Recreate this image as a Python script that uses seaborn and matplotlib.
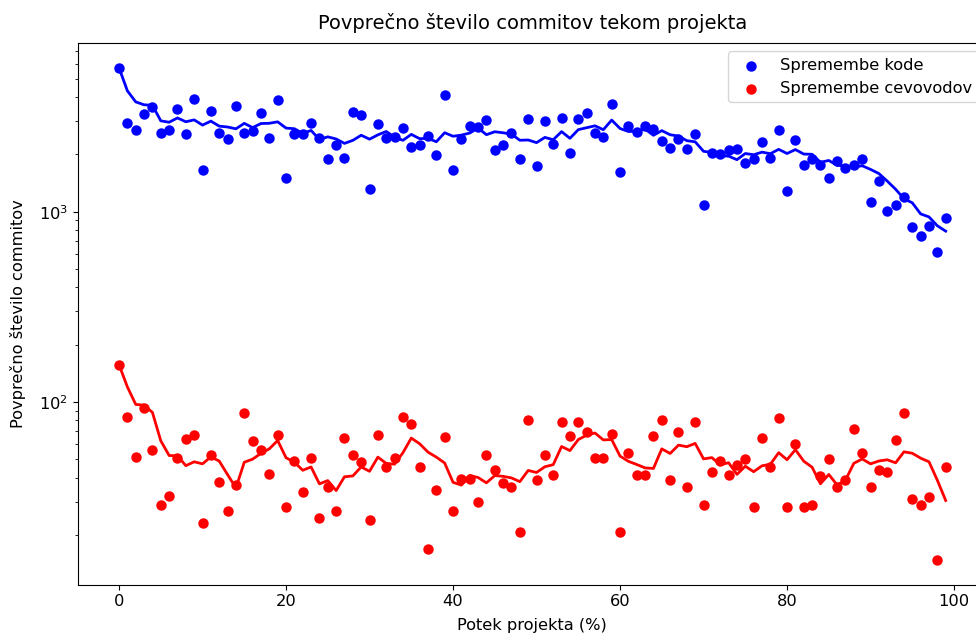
import matplotlib
matplotlib.use("Agg")
import matplotlib.pyplot as plt
import seaborn as sns
import numpy as np
import pandas as pd

# Potek projekta v odstotkih (0-99)
potek = np.arange(100)

# Povprečno število commitov - spremembe kode
koda = [
    5700, 2930, 2690, 3250, 3550, 2580, 2680, 3475, 2550, 3890,
    1653, 3380, 2595, 2404, 3590, 2580, 2655, 3290, 2450, 3845,
    1501, 2550, 2550, 2912, 2450, 1900, 2233, 1923, 3340, 3207,
    1315, 2876, 2450, 2470, 2740, 2197, 2233, 2500, 1981, 4083,
    1653, 2404, 2820, 2790, 3020, 2113, 2240, 2600, 1888, 3055,
    1741, 2994, 2259, 3118, 2029, 3085, 3313, 2580, 2470, 3690,
    1625, 2820, 2620, 2820, 2710, 2354, 2172, 2420, 2144, 2550,
    1088, 2036, 2006, 2104, 2144, 1812, 1888, 2323, 1913, 2690,
    1288, 2381, 1763, 1888, 1763, 1494, 1849, 1706, 1763, 1900,
    1118, 1441, 1012, 1088, 1188, 835, 743, 837, 612, 923,
]

# Povprečno število commitov - spremembe cevovodov
cevovodi = [
    157, 83, 51.3, 93.4, 56.1, 28.9, 31.9, 50.7, 63.8, 67.2,
    23.0, 52.8, 37.8, 26.8, 36.5, 87.3, 62.0, 56.1, 41.8, 66.7,
    28.1, 48.7, 33.6, 50.7, 24.6, 35.6, 26.8, 64.6, 52.8, 48.1,
    23.9, 67.2, 45.8, 50.7, 83.0, 76.4, 45.8, 16.8, 34.6, 65.3,
    26.7, 39.5, 39.3, 29.7, 52.8, 44.0, 37.5, 35.6, 20.8, 80.5,
    38.7, 52.8, 41.5, 78.3, 66.4, 78.3, 69.9, 50.7, 50.7, 67.8,
    20.8, 53.9, 41.5, 41.2, 66.4, 80.5, 38.7, 69.9, 35.6, 78.3,
    28.6, 42.7, 48.7, 41.5, 46.8, 50.1, 28.0, 64.6, 45.8, 82.2,
    28.0, 60.3, 28.0, 28.6, 41.0, 50.1, 35.6, 39.1, 72.3, 53.9,
    35.6, 44.0, 42.7, 63.3, 87.9, 31.0, 28.6, 31.7, 14.8, 45.8,
]

plt.rcParams["font.size"] = 11.7
plt.rcParams["axes.titlesize"] = 14

df = pd.DataFrame({"potek": potek, "koda": koda, "cevovodi": cevovodi})
# drseče povprečje čez 5 točk
df["koda_glajeno"] = df["koda"].rolling(5, min_periods=1).mean()
df["cevovodi_glajeno"] = df["cevovodi"].rolling(5, min_periods=1).mean()

fig, ax = plt.subplots(figsize=(9.76, 6.35), dpi=100)
fig.subplots_adjust(left=0.0796, right=1.0113, bottom=0.0795, top=0.932)

sns.scatterplot(data=df, x="potek", y="koda", color="blue", s=36,
                edgecolor="blue", linewidth=1.5, label="Spremembe kode", ax=ax)
sns.scatterplot(data=df, x="potek", y="cevovodi", color="red", s=36,
                edgecolor="red", linewidth=1.5, label="Spremembe cevovodov", ax=ax)
sns.lineplot(data=df, x="potek", y="koda_glajeno", color="blue", linewidth=2, ax=ax)
sns.lineplot(data=df, x="potek", y="cevovodi_glajeno", color="red", linewidth=2, ax=ax)

ax.set_yscale("log")
ax.set_title("Povprečno število commitov tekom projekta", pad=10)
ax.set_xlabel("Potek projekta (%)", labelpad=6.5)
ax.set_ylabel("Povprečno število commitov", labelpad=9)
ax.legend(loc="upper right")

fig.savefig("out.png", dpi=100)
